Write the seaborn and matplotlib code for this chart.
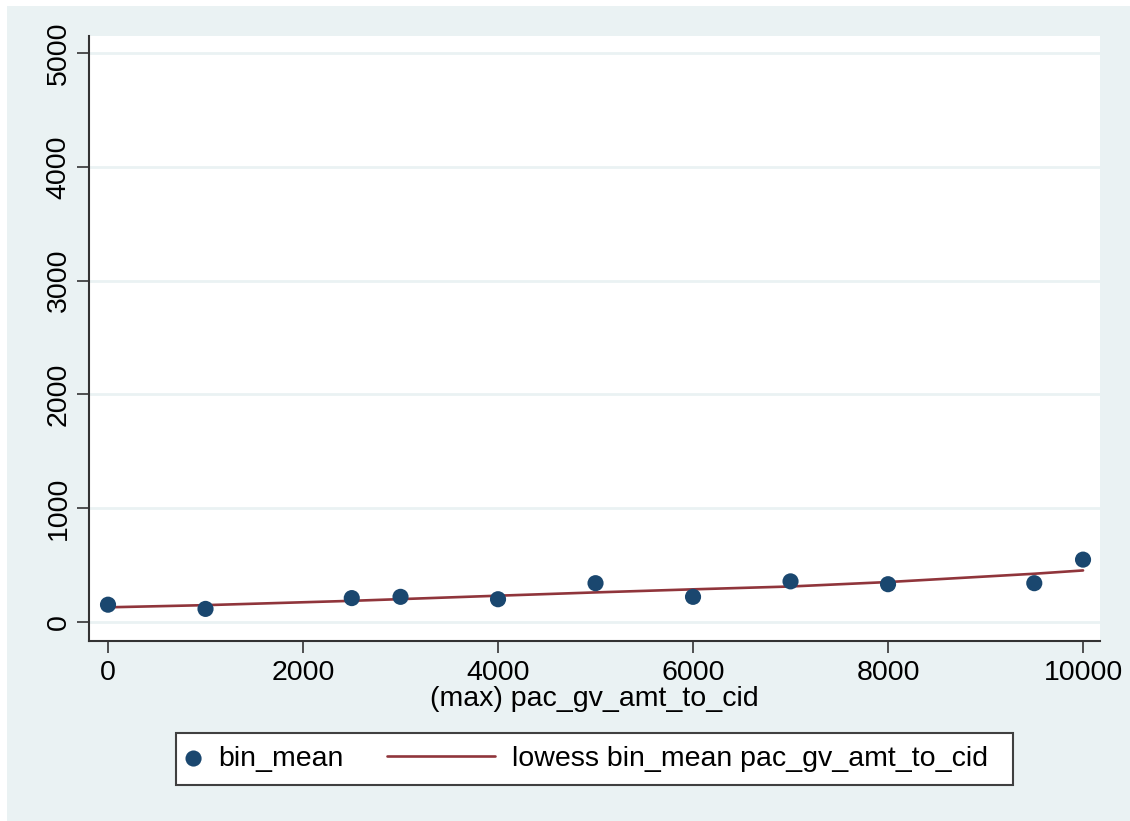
import matplotlib
matplotlib.use("Agg")
import matplotlib.pyplot as plt
import seaborn as sns
import pandas as pd
from matplotlib.patches import Rectangle
from matplotlib.collections import PathCollection

# ---- data ----
x_vals = [0, 1000, 2500, 3000, 4000, 5000, 6000, 7000, 8000, 9500, 10000]
bin_mean = [152, 115, 210, 221, 200, 341, 221, 357, 332, 341, 548]
lowess_fit = [129, 148, 186, 201, 231, 260, 287, 312, 351, 424, 453]
x_ticks = [0, 2000, 4000, 6000, 8000, 10000]
y_ticks = [0, 1000, 2000, 3000, 4000, 5000]
x_label = "(max) pac_gv_amt_to_cid"
legend_labels = ["bin_mean", "lowess bin_mean pac_gv_amt_to_cid"]

df = pd.DataFrame({"x": x_vals, "bin_mean": bin_mean, "lowess": lowess_fit})

sns.set_theme(style="white")
plt.rcParams["font.family"] = ["Liberation Sans", "DejaVu Sans"]
plt.rcParams["text.color"] = "black"

W, H = 1130, 821
BG = "#EAF2F3"
NAVY = "#1a476f"
MAROON = "#90353b"
SPINE = "#333333"

fig = plt.figure(figsize=(W / 100, H / 100), dpi=100, facecolor=BG)
# thin white border at top and left
fig.add_artist(Rectangle((0, 0), 7 / W, 1, transform=fig.transFigure,
                         facecolor="white", edgecolor="none", zorder=0))
fig.add_artist(Rectangle((0, 1 - 6 / H), 1, 6 / H, transform=fig.transFigure,
                         facecolor="white", edgecolor="none", zorder=0))

ax = fig.add_axes([89 / W, 1 - 641 / H, (1100 - 89) / W, (641 - 36) / H])
ax.set_facecolor("white")

sns.lineplot(data=df, x="x", y="lowess", ax=ax, color=MAROON, lw=1.9,
             legend=False, zorder=3, errorbar=None)
sns.scatterplot(data=df, x="x", y="bin_mean", ax=ax, color=NAVY, s=135,
                edgecolor="none", legend=False, zorder=4)

ax.set_xlim(-195, 10174)
ax.set_ylim(-167, 5149)
ax.set_xticks(x_ticks)
ax.set_yticks(y_ticks)
ax.set_xticklabels([str(v) for v in x_ticks])
ax.set_yticklabels([str(v) for v in y_ticks], rotation=90, va="center")

ax.set_axisbelow(True)
ax.yaxis.grid(True, color=BG, lw=2)
ax.xaxis.grid(False)

for side in ["top", "right"]:
    ax.spines[side].set_visible(False)
for side in ["left", "bottom"]:
    ax.spines[side].set_color(SPINE)
    ax.spines[side].set_linewidth(1.5)

ax.tick_params(axis="both", which="major", direction="out", length=8.5,
               width=1.2, color=SPINE, labelsize=20.5, labelcolor="black",
               bottom=True, left=True)
ax.tick_params(axis="x", pad=5)
ax.tick_params(axis="y", pad=4)

ax.set_xlabel(x_label, fontsize=20.5, labelpad=0, color="black")
ax.set_ylabel("")

# ---- legend ----
fig.add_artist(Rectangle((176 / W, 1 - 785 / H), (1013 - 176) / W, 52 / H,
                         transform=fig.transFigure, facecolor="white",
                         edgecolor="#404040", lw=1.5, zorder=1))
pts = [c for c in ax.collections if isinstance(c, PathCollection)][0]
line = ax.lines[0]
ly = 1 - 759 / H
leg1 = fig.legend([pts], [legend_labels[0]], loc="center left",
                  bbox_to_anchor=(185 / W, ly), frameon=False, fontsize=20.5,
                  handlelength=0.6, handletextpad=0.55, borderpad=0,
                  borderaxespad=0, scatterpoints=1, labelcolor="black")
leg2 = fig.legend([line], [legend_labels[1]], loc="center left",
                  bbox_to_anchor=(387 / W, ly), frameon=False, fontsize=20.5,
                  handlelength=3.78, handletextpad=0.62, borderpad=0,
                  borderaxespad=0, labelcolor="black")
leg1.set_zorder(2)
leg2.set_zorder(2)

fig.savefig("out.png", dpi=100, facecolor=fig.get_facecolor())
